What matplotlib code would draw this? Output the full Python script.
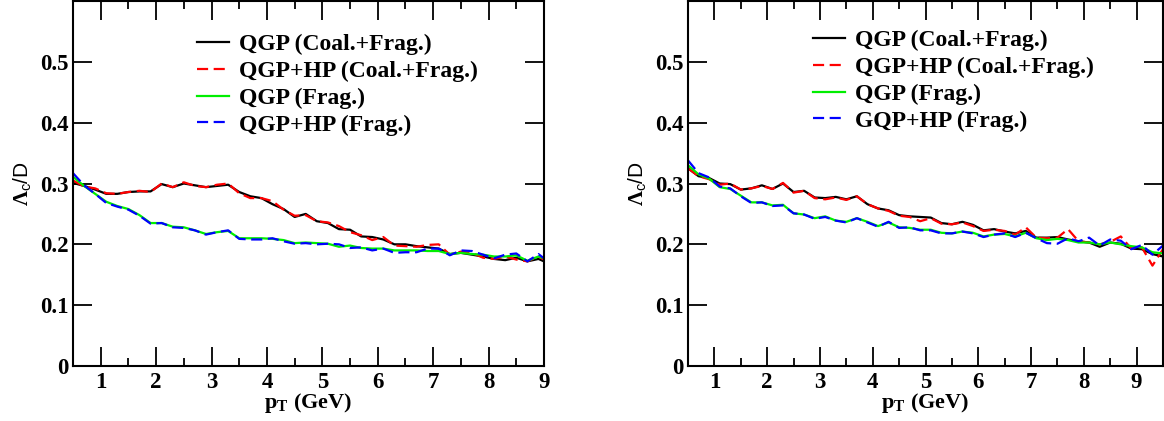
import numpy as np
import matplotlib
matplotlib.use("Agg")
import matplotlib.pyplot as plt
from matplotlib.ticker import MultipleLocator

plt.rcParams['font.family'] = ['Liberation Serif', 'DejaVu Serif']
plt.rcParams['font.weight'] = 'bold'
plt.rcParams['mathtext.fontset'] = 'custom'
plt.rcParams['mathtext.rm'] = 'Liberation Serif:bold'
plt.rcParams['mathtext.it'] = 'Liberation Serif:bold'
plt.rcParams['mathtext.bf'] = 'Liberation Serif:bold'

# pT grid (GeV)
pt_left = [0.5, 0.7, 0.9, 1.1, 1.3, 1.5, 1.7, 1.9, 2.1, 2.3, 2.5, 2.7, 2.9, 3.1, 3.3,
           3.5, 3.7, 3.9, 4.1, 4.3, 4.5, 4.7, 4.9, 5.1, 5.3, 5.5, 5.7, 5.9, 6.1, 6.3,
           6.5, 6.7, 6.9, 7.1, 7.3, 7.5, 7.7, 7.9, 8.1, 8.3, 8.5, 8.7, 8.9, 9.1]
pt_right = pt_left + [9.3, 9.5]

# left panel
qgp_cf_l = [0.301, 0.296, 0.290, 0.283, 0.283, 0.286, 0.287, 0.287, 0.299, 0.294, 0.300, 0.297, 0.294, 0.296, 0.298,
            0.286, 0.279, 0.276, 0.266, 0.258, 0.245, 0.250, 0.238, 0.235, 0.225, 0.224, 0.213, 0.212, 0.208, 0.200,
            0.200, 0.197, 0.195, 0.193, 0.184, 0.186, 0.183, 0.180, 0.176, 0.174, 0.178, 0.172, 0.176, 0.168]
qgphp_cf_l = [0.305, 0.295, 0.292, 0.284, 0.283, 0.286, 0.288, 0.286, 0.300, 0.294, 0.302, 0.296, 0.294, 0.298, 0.300,
              0.284, 0.276, 0.276, 0.271, 0.257, 0.247, 0.248, 0.238, 0.236, 0.230, 0.220, 0.215, 0.207, 0.212, 0.198,
              0.197, 0.196, 0.199, 0.200, 0.183, 0.188, 0.186, 0.178, 0.176, 0.180, 0.175, 0.172, 0.180, 0.170]
qgp_f_l = [0.311, 0.296, 0.283, 0.270, 0.263, 0.258, 0.248, 0.235, 0.235, 0.229, 0.228, 0.223, 0.217, 0.220, 0.222,
           0.210, 0.210, 0.210, 0.209, 0.207, 0.202, 0.203, 0.202, 0.201, 0.196, 0.198, 0.194, 0.193, 0.193, 0.190,
           0.190, 0.190, 0.189, 0.189, 0.184, 0.186, 0.184, 0.183, 0.180, 0.180, 0.182, 0.173, 0.180, 0.175]
qgphp_f_l = [0.317, 0.297, 0.283, 0.268, 0.262, 0.257, 0.247, 0.234, 0.235, 0.228, 0.227, 0.223, 0.216, 0.220, 0.223,
             0.209, 0.208, 0.208, 0.210, 0.205, 0.201, 0.202, 0.200, 0.201, 0.200, 0.194, 0.195, 0.190, 0.193, 0.186,
             0.187, 0.187, 0.193, 0.193, 0.182, 0.190, 0.189, 0.183, 0.177, 0.183, 0.185, 0.172, 0.184, 0.170]

# right panel
qgp_cf_r = [0.325, 0.312, 0.309, 0.300, 0.299, 0.290, 0.292, 0.297, 0.291, 0.300, 0.286, 0.288, 0.277, 0.276, 0.278,
            0.274, 0.279, 0.266, 0.259, 0.256, 0.248, 0.246, 0.245, 0.244, 0.235, 0.233, 0.237, 0.232, 0.223, 0.225,
            0.221, 0.218, 0.222, 0.211, 0.211, 0.212, 0.208, 0.205, 0.203, 0.196, 0.203, 0.201, 0.193, 0.192, 0.184, 0.180]
qgphp_cf_r = [0.325, 0.312, 0.307, 0.298, 0.300, 0.290, 0.292, 0.296, 0.291, 0.301, 0.285, 0.288, 0.276, 0.274, 0.277,
              0.273, 0.279, 0.266, 0.259, 0.255, 0.247, 0.245, 0.238, 0.243, 0.234, 0.233, 0.236, 0.230, 0.222, 0.224,
              0.222, 0.216, 0.228, 0.211, 0.210, 0.211, 0.225, 0.205, 0.203, 0.200, 0.204, 0.213, 0.193, 0.195, 0.165, 0.192]
qgp_f_r = [0.330, 0.315, 0.308, 0.294, 0.291, 0.280, 0.269, 0.269, 0.264, 0.265, 0.251, 0.249, 0.243, 0.246, 0.239,
           0.237, 0.243, 0.237, 0.230, 0.236, 0.228, 0.227, 0.224, 0.224, 0.219, 0.218, 0.221, 0.219, 0.213, 0.216,
           0.217, 0.213, 0.219, 0.210, 0.207, 0.209, 0.207, 0.203, 0.203, 0.200, 0.203, 0.200, 0.197, 0.195, 0.187, 0.185]
qgphp_f_r = [0.338, 0.317, 0.310, 0.295, 0.292, 0.279, 0.268, 0.269, 0.263, 0.264, 0.251, 0.249, 0.242, 0.245, 0.239,
             0.236, 0.243, 0.236, 0.229, 0.237, 0.227, 0.228, 0.223, 0.223, 0.218, 0.218, 0.221, 0.218, 0.212, 0.216,
             0.218, 0.212, 0.219, 0.210, 0.202, 0.201, 0.210, 0.205, 0.211, 0.198, 0.208, 0.206, 0.192, 0.199, 0.183, 0.198]

labels_l = ['QGP (Coal.+Frag.)', 'QGP+HP (Coal.+Frag.)', 'QGP (Frag.)', 'QGP+HP (Frag.)']
labels_r = ['QGP (Coal.+Frag.)', 'QGP+HP (Coal.+Frag.)', 'QGP (Frag.)', 'GQP+HP (Frag.)']

fig = plt.figure(figsize=(11.64, 4.21), dpi=100)
W, H = 1164.0, 421.0
ax1 = fig.add_axes([73 / W, 1 - 366 / H, 471 / W, 365 / H])
ax2 = fig.add_axes([688 / W, 1 - 366 / H, 475 / W, 365 / H])


def panel(ax, pt, series, labels, xmax, leg_y):
    styles = [('black', '-'), ('red', (0, (5, 2.5))), ('#00ee00', '-'), ('blue', (0, (5, 2.5)))]
    for ys, lab, (c, ls) in zip(series, labels, styles):
        ax.plot(pt, ys, color=c, linestyle=ls, lw=1.6, label=lab)
    ax.set_xlim(0.5, xmax)
    ax.set_ylim(0, 0.6)
    ax.xaxis.set_major_locator(MultipleLocator(1))
    ax.xaxis.set_minor_locator(MultipleLocator(0.5))
    ax.set_yticks([0, 0.1, 0.2, 0.3, 0.4, 0.5])
    ax.set_yticklabels(['0', '0.1', '0.2', '0.3', '0.4', '0.5'])
    ax.tick_params(which='both', direction='in', top=True, right=True, labelsize=16.5, width=1.3)
    ax.tick_params(which='major', length=13.5)
    ax.tick_params(axis='x', which='major', pad=4)
    ax.tick_params(axis='y', which='major', pad=3)
    ax.tick_params(which='minor', length=6)
    for sp in ax.spines.values():
        sp.set_linewidth(1.5)
    ax.set_xlabel(r'p$_\mathregular{T}$ (GeV)', fontsize=16, fontweight='bold', labelpad=-1)
    ax.set_ylabel(r'$\Lambda_\mathregular{c}$/D', fontsize=15, fontweight='normal',
                  family='Liberation Sans', labelpad=5)
    ax.legend(loc='upper left', bbox_to_anchor=(0.263, leg_y), frameon=False, fontsize=17,
              handlelength=1.35, handletextpad=0.45, labelspacing=0.22, borderaxespad=0, borderpad=0)


panel(ax1, pt_left, [qgp_cf_l, qgphp_cf_l, qgp_f_l, qgphp_f_l], labels_l, 9.0, 0.91)
panel(ax2, pt_right, [qgp_cf_r, qgphp_cf_r, qgp_f_r, qgphp_f_r], labels_r, 9.5, 0.921)

fig.savefig('out.png', dpi=100)
